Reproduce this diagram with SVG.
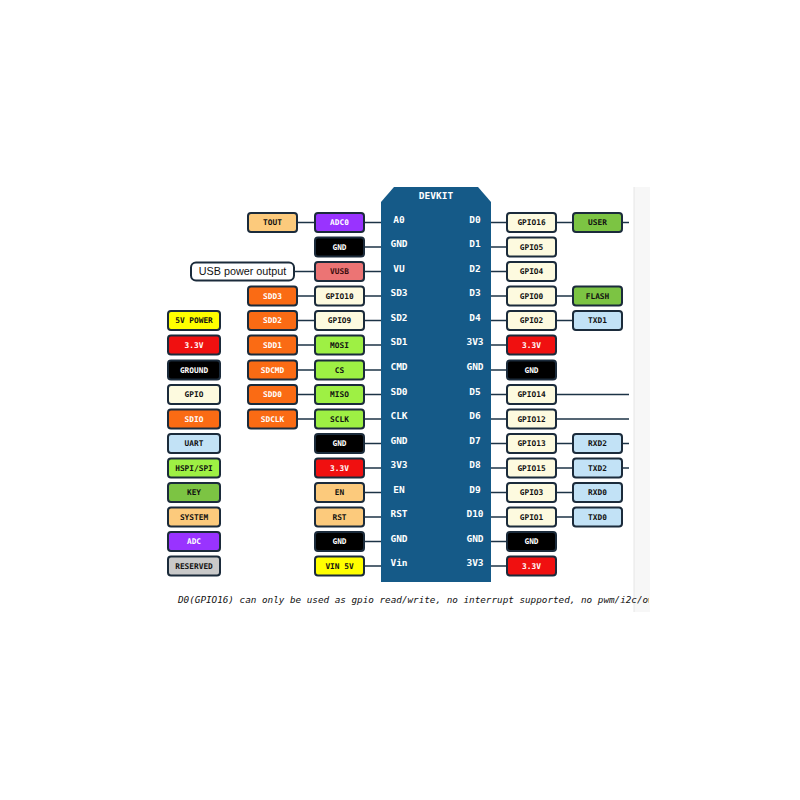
<svg xmlns="http://www.w3.org/2000/svg" width="800" height="800" viewBox="0 0 800 800">
<defs>
<style>
.b{stroke:#1b2b3b;stroke-width:2}
.t{font-family:"DejaVu Sans Mono","Liberation Mono",monospace;font-weight:bold;font-size:7.8px;text-anchor:middle;fill:#111}
.w{fill:#fff}
.pl{font-family:"DejaVu Sans Mono","Liberation Mono",monospace;font-weight:bold;font-size:9.5px;fill:#fff}
.cream{fill:#fdfadf}.gnd{fill:#000}.red{fill:#f01010}.orange{fill:#fa6b14}.lime{fill:#9ef044}
.green{fill:#7cc443}.blue{fill:#c2e2f6}.sys{fill:#fcca7c}.purple{fill:#9933ff}.yellow{fill:#ffff00}
.gray{fill:#c9c9c9}.vusb{fill:#ec7474}
.c line{stroke:#1c3346;stroke-width:1.5}
</style>
<clipPath id="clipNote"><rect x="0" y="580" width="649" height="40"/></clipPath>
</defs>
<rect width="800" height="800" fill="#fff"/>
<rect x="634" y="187" width="16" height="425" fill="#f7f7f7"/>
<line x1="634" y1="187" x2="634" y2="612" stroke="#e6e6e6" stroke-width="1"/>

<g id="connectors" class="c">
<line x1="297" y1="222.5" x2="315" y2="222.5"/>
<line x1="294" y1="271.5" x2="315" y2="271.5"/>
<line x1="297" y1="296" x2="315" y2="296"/>
<line x1="297" y1="320.5" x2="315" y2="320.5"/>
<line x1="297" y1="345" x2="315" y2="345"/>
<line x1="297" y1="370" x2="315" y2="370"/>
<line x1="297" y1="394.5" x2="315" y2="394.5"/>
<line x1="297" y1="419" x2="315" y2="419"/>
<line x1="364" y1="222.5" x2="381" y2="222.5"/>
<line x1="364" y1="247" x2="381" y2="247"/>
<line x1="364" y1="271.5" x2="381" y2="271.5"/>
<line x1="364" y1="296" x2="381" y2="296"/>
<line x1="364" y1="320.5" x2="381" y2="320.5"/>
<line x1="364" y1="345" x2="381" y2="345"/>
<line x1="364" y1="370" x2="381" y2="370"/>
<line x1="364" y1="394.5" x2="381" y2="394.5"/>
<line x1="364" y1="419" x2="381" y2="419"/>
<line x1="364" y1="443.5" x2="381" y2="443.5"/>
<line x1="364" y1="468" x2="381" y2="468"/>
<line x1="364" y1="492.5" x2="381" y2="492.5"/>
<line x1="364" y1="517" x2="381" y2="517"/>
<line x1="364" y1="541.5" x2="381" y2="541.5"/>
<line x1="364" y1="566" x2="381" y2="566"/>
<line x1="491" y1="222.5" x2="507" y2="222.5"/>
<line x1="491" y1="247" x2="507" y2="247"/>
<line x1="491" y1="271.5" x2="507" y2="271.5"/>
<line x1="491" y1="296" x2="507" y2="296"/>
<line x1="491" y1="320.5" x2="507" y2="320.5"/>
<line x1="491" y1="345" x2="507" y2="345"/>
<line x1="491" y1="370" x2="507" y2="370"/>
<line x1="491" y1="394.5" x2="507" y2="394.5"/>
<line x1="491" y1="419" x2="507" y2="419"/>
<line x1="491" y1="443.5" x2="507" y2="443.5"/>
<line x1="491" y1="468" x2="507" y2="468"/>
<line x1="491" y1="492.5" x2="507" y2="492.5"/>
<line x1="491" y1="517" x2="507" y2="517"/>
<line x1="491" y1="541.5" x2="507" y2="541.5"/>
<line x1="491" y1="566" x2="507" y2="566"/>
<line x1="556" y1="222.5" x2="573" y2="222.5"/>
<line x1="556" y1="296" x2="573" y2="296"/>
<line x1="556" y1="320.5" x2="573" y2="320.5"/>
<line x1="556" y1="443.5" x2="573" y2="443.5"/>
<line x1="556" y1="468" x2="573" y2="468"/>
<line x1="556" y1="492.5" x2="573" y2="492.5"/>
<line x1="556" y1="517" x2="573" y2="517"/>
<line x1="622" y1="222.5" x2="629" y2="222.5"/>
<line x1="556" y1="394.5" x2="629" y2="394.5"/>
<line x1="556" y1="419" x2="629" y2="419"/>
<line x1="622" y1="443.5" x2="629" y2="443.5"/>
<line x1="622" y1="468" x2="629" y2="468"/>
</g>

<g id="board">
<path d="M381,202 L394,187 L478,187 L491,202 L491,582 L381,582 Z" fill="#155a88"/>
<text x="436" y="199" class="pl" text-anchor="middle">DEVKIT</text>
<g text-anchor="middle">
<text x="399" y="222.5" class="pl">A0</text>
<text x="399" y="247" class="pl">GND</text>
<text x="399" y="271.5" class="pl">VU</text>
<text x="399" y="296" class="pl">SD3</text>
<text x="399" y="320.5" class="pl">SD2</text>
<text x="399" y="345" class="pl">SD1</text>
<text x="399" y="370" class="pl">CMD</text>
<text x="399" y="394.5" class="pl">SD0</text>
<text x="399" y="419" class="pl">CLK</text>
<text x="399" y="443.5" class="pl">GND</text>
<text x="399" y="468" class="pl">3V3</text>
<text x="399" y="492.5" class="pl">EN</text>
<text x="399" y="517" class="pl">RST</text>
<text x="399" y="541.5" class="pl">GND</text>
<text x="399" y="566" class="pl">Vin</text>
</g>
<g text-anchor="middle">
<text x="475" y="222.5" class="pl">D0</text>
<text x="475" y="247" class="pl">D1</text>
<text x="475" y="271.5" class="pl">D2</text>
<text x="475" y="296" class="pl">D3</text>
<text x="475" y="320.5" class="pl">D4</text>
<text x="475" y="345" class="pl">3V3</text>
<text x="475" y="370" class="pl">GND</text>
<text x="475" y="394.5" class="pl">D5</text>
<text x="475" y="419" class="pl">D6</text>
<text x="475" y="443.5" class="pl">D7</text>
<text x="475" y="468" class="pl">D8</text>
<text x="475" y="492.5" class="pl">D9</text>
<text x="475" y="517" class="pl">D10</text>
<text x="475" y="541.5" class="pl">GND</text>
<text x="475" y="566" class="pl">3V3</text>
</g>
</g>

<!-- Legend column -->
<g id="leg-5v" transform="translate(168,320.5)"><rect class="b yellow" x="0" y="-9.5" width="52" height="19" rx="3"/><text class="t" x="26" y="2.8">5V POWER</text></g>
<g id="leg-33" transform="translate(168,345)"><rect class="b red" x="0" y="-9.5" width="52" height="19" rx="3"/><text class="t w" x="26" y="2.8">3.3V</text></g>
<g id="leg-gnd" transform="translate(168,370)"><rect class="b gnd" x="0" y="-9.5" width="52" height="19" rx="3"/><text class="t w" x="26" y="2.8">GROUND</text></g>
<g id="leg-gpio" transform="translate(168,394.5)"><rect class="b cream" x="0" y="-9.5" width="52" height="19" rx="3"/><text class="t" x="26" y="2.8">GPIO</text></g>
<g id="leg-sdio" transform="translate(168,419)"><rect class="b orange" x="0" y="-9.5" width="52" height="19" rx="3"/><text class="t w" x="26" y="2.8">SDIO</text></g>
<g id="leg-uart" transform="translate(168,443.5)"><rect class="b blue" x="0" y="-9.5" width="52" height="19" rx="3"/><text class="t" x="26" y="2.8">UART</text></g>
<g id="leg-spi" transform="translate(168,468)"><rect class="b lime" x="0" y="-9.5" width="52" height="19" rx="3"/><text class="t" x="26" y="2.8">HSPI/SPI</text></g>
<g id="leg-key" transform="translate(168,492.5)"><rect class="b green" x="0" y="-9.5" width="52" height="19" rx="3"/><text class="t" x="26" y="2.8">KEY</text></g>
<g id="leg-sys" transform="translate(168,517)"><rect class="b sys" x="0" y="-9.5" width="52" height="19" rx="3"/><text class="t" x="26" y="2.8">SYSTEM</text></g>
<g id="leg-adc" transform="translate(168,541.5)"><rect class="b purple" x="0" y="-9.5" width="52" height="19" rx="3"/><text class="t w" x="26" y="2.8">ADC</text></g>
<g id="leg-res" transform="translate(168,566)"><rect class="b gray" x="0" y="-9.5" width="52" height="19" rx="3"/><text class="t" x="26" y="2.8">RESERVED</text></g>

<!-- Column B -->
<g id="tout" transform="translate(248,222.5)"><rect class="b sys" x="0" y="-9.5" width="49" height="19" rx="3"/><text class="t" x="24.5" y="2.8">TOUT</text></g>
<g id="sdd3" transform="translate(248,296)"><rect class="b orange" x="0" y="-9.5" width="49" height="19" rx="3"/><text class="t w" x="24.5" y="2.8">SDD3</text></g>
<g id="sdd2" transform="translate(248,320.5)"><rect class="b orange" x="0" y="-9.5" width="49" height="19" rx="3"/><text class="t w" x="24.5" y="2.8">SDD2</text></g>
<g id="sdd1" transform="translate(248,345)"><rect class="b orange" x="0" y="-9.5" width="49" height="19" rx="3"/><text class="t w" x="24.5" y="2.8">SDD1</text></g>
<g id="sdcmd" transform="translate(248,370)"><rect class="b orange" x="0" y="-9.5" width="49" height="19" rx="3"/><text class="t w" x="24.5" y="2.8">SDCMD</text></g>
<g id="sdd0" transform="translate(248,394.5)"><rect class="b orange" x="0" y="-9.5" width="49" height="19" rx="3"/><text class="t w" x="24.5" y="2.8">SDD0</text></g>
<g id="sdclk" transform="translate(248,419)"><rect class="b orange" x="0" y="-9.5" width="49" height="19" rx="3"/><text class="t w" x="24.5" y="2.8">SDCLK</text></g>
<g id="usb-out" transform="translate(191,271.5)"><rect x="0" y="-9" width="103" height="18" rx="5" fill="#fff" stroke="#1b2b3b" stroke-width="2"/><text x="51.5" y="3.8" font-family="Liberation Sans, Arial, sans-serif" font-size="10.8" text-anchor="middle" fill="#111">USB power output</text></g>

<!-- Column C -->
<g id="adc0" transform="translate(315,222.5)"><rect class="b purple" x="0" y="-9.5" width="49" height="19" rx="3"/><text class="t w" x="24.5" y="2.8">ADC0</text></g>
<g id="l-gnd1" transform="translate(315,247)"><rect class="b gnd" x="0" y="-9.5" width="49" height="19" rx="3"/><text class="t w" x="24.5" y="2.8">GND</text></g>
<g id="vusb" transform="translate(315,271.5)"><rect class="b vusb" x="0" y="-9.5" width="49" height="19" rx="3"/><text class="t" x="24.5" y="2.8" fill="#3b0d0d" style="fill:#3b0d0d">VUSB</text></g>
<g id="gpio10" transform="translate(315,296)"><rect class="b cream" x="0" y="-9.5" width="49" height="19" rx="3"/><text class="t" x="24.5" y="2.8">GPIO10</text></g>
<g id="gpio9" transform="translate(315,320.5)"><rect class="b cream" x="0" y="-9.5" width="49" height="19" rx="3"/><text class="t" x="24.5" y="2.8">GPIO9</text></g>
<g id="mosi" transform="translate(315,345)"><rect class="b lime" x="0" y="-9.5" width="49" height="19" rx="3"/><text class="t" x="24.5" y="2.8">MOSI</text></g>
<g id="cs" transform="translate(315,370)"><rect class="b lime" x="0" y="-9.5" width="49" height="19" rx="3"/><text class="t" x="24.5" y="2.8">CS</text></g>
<g id="miso" transform="translate(315,394.5)"><rect class="b lime" x="0" y="-9.5" width="49" height="19" rx="3"/><text class="t" x="24.5" y="2.8">MISO</text></g>
<g id="sclk" transform="translate(315,419)"><rect class="b lime" x="0" y="-9.5" width="49" height="19" rx="3"/><text class="t" x="24.5" y="2.8">SCLK</text></g>
<g id="l-gnd2" transform="translate(315,443.5)"><rect class="b gnd" x="0" y="-9.5" width="49" height="19" rx="3"/><text class="t w" x="24.5" y="2.8">GND</text></g>
<g id="l-33" transform="translate(315,468)"><rect class="b red" x="0" y="-9.5" width="49" height="19" rx="3"/><text class="t w" x="24.5" y="2.8">3.3V</text></g>
<g id="en" transform="translate(315,492.5)"><rect class="b sys" x="0" y="-9.5" width="49" height="19" rx="3"/><text class="t" x="24.5" y="2.8">EN</text></g>
<g id="rst" transform="translate(315,517)"><rect class="b sys" x="0" y="-9.5" width="49" height="19" rx="3"/><text class="t" x="24.5" y="2.8">RST</text></g>
<g id="l-gnd3" transform="translate(315,541.5)"><rect class="b gnd" x="0" y="-9.5" width="49" height="19" rx="3"/><text class="t w" x="24.5" y="2.8">GND</text></g>
<g id="vin5v" transform="translate(315,566)"><rect class="b yellow" x="0" y="-9.5" width="49" height="19" rx="3"/><text class="t" x="24.5" y="2.8">VIN 5V</text></g>

<!-- Column D -->
<g id="gpio16" transform="translate(507,222.5)"><rect class="b cream" x="0" y="-9.5" width="49" height="19" rx="3"/><text class="t" x="24.5" y="2.8">GPIO16</text></g>
<g id="gpio5" transform="translate(507,247)"><rect class="b cream" x="0" y="-9.5" width="49" height="19" rx="3"/><text class="t" x="24.5" y="2.8">GPIO5</text></g>
<g id="gpio4" transform="translate(507,271.5)"><rect class="b cream" x="0" y="-9.5" width="49" height="19" rx="3"/><text class="t" x="24.5" y="2.8">GPIO4</text></g>
<g id="gpio0" transform="translate(507,296)"><rect class="b cream" x="0" y="-9.5" width="49" height="19" rx="3"/><text class="t" x="24.5" y="2.8">GPIO0</text></g>
<g id="gpio2" transform="translate(507,320.5)"><rect class="b cream" x="0" y="-9.5" width="49" height="19" rx="3"/><text class="t" x="24.5" y="2.8">GPIO2</text></g>
<g id="r-33a" transform="translate(507,345)"><rect class="b red" x="0" y="-9.5" width="49" height="19" rx="3"/><text class="t w" x="24.5" y="2.8">3.3V</text></g>
<g id="r-gnd1" transform="translate(507,370)"><rect class="b gnd" x="0" y="-9.5" width="49" height="19" rx="3"/><text class="t w" x="24.5" y="2.8">GND</text></g>
<g id="gpio14" transform="translate(507,394.5)"><rect class="b cream" x="0" y="-9.5" width="49" height="19" rx="3"/><text class="t" x="24.5" y="2.8">GPIO14</text></g>
<g id="gpio12" transform="translate(507,419)"><rect class="b cream" x="0" y="-9.5" width="49" height="19" rx="3"/><text class="t" x="24.5" y="2.8">GPIO12</text></g>
<g id="gpio13" transform="translate(507,443.5)"><rect class="b cream" x="0" y="-9.5" width="49" height="19" rx="3"/><text class="t" x="24.5" y="2.8">GPIO13</text></g>
<g id="gpio15" transform="translate(507,468)"><rect class="b cream" x="0" y="-9.5" width="49" height="19" rx="3"/><text class="t" x="24.5" y="2.8">GPIO15</text></g>
<g id="gpio3" transform="translate(507,492.5)"><rect class="b cream" x="0" y="-9.5" width="49" height="19" rx="3"/><text class="t" x="24.5" y="2.8">GPIO3</text></g>
<g id="gpio1" transform="translate(507,517)"><rect class="b cream" x="0" y="-9.5" width="49" height="19" rx="3"/><text class="t" x="24.5" y="2.8">GPIO1</text></g>
<g id="r-gnd2" transform="translate(507,541.5)"><rect class="b gnd" x="0" y="-9.5" width="49" height="19" rx="3"/><text class="t w" x="24.5" y="2.8">GND</text></g>
<g id="r-33b" transform="translate(507,566)"><rect class="b red" x="0" y="-9.5" width="49" height="19" rx="3"/><text class="t w" x="24.5" y="2.8">3.3V</text></g>

<!-- Column E -->
<g id="user" transform="translate(573,222.5)"><rect class="b green" x="0" y="-9.5" width="49" height="19" rx="3"/><text class="t" x="24.5" y="2.8">USER</text></g>
<g id="flash" transform="translate(573,296)"><rect class="b green" x="0" y="-9.5" width="49" height="19" rx="3"/><text class="t" x="24.5" y="2.8">FLASH</text></g>
<g id="txd1" transform="translate(573,320.5)"><rect class="b blue" x="0" y="-9.5" width="49" height="19" rx="3"/><text class="t" x="24.5" y="2.8">TXD1</text></g>
<g id="rxd2" transform="translate(573,443.5)"><rect class="b blue" x="0" y="-9.5" width="49" height="19" rx="3"/><text class="t" x="24.5" y="2.8">RXD2</text></g>
<g id="txd2" transform="translate(573,468)"><rect class="b blue" x="0" y="-9.5" width="49" height="19" rx="3"/><text class="t" x="24.5" y="2.8">TXD2</text></g>
<g id="rxd0" transform="translate(573,492.5)"><rect class="b blue" x="0" y="-9.5" width="49" height="19" rx="3"/><text class="t" x="24.5" y="2.8">RXD0</text></g>
<g id="txd0" transform="translate(573,517)"><rect class="b blue" x="0" y="-9.5" width="49" height="19" rx="3"/><text class="t" x="24.5" y="2.8">TXD0</text></g>

<g id="note" clip-path="url(#clipNote)">
<text x="178" y="603" font-family="DejaVu Sans Mono, Liberation Mono, monospace" font-style="italic" font-size="9.3" fill="#111">D0(GPIO16) can only be used as gpio read/write, no interrupt supported, no pwm/i2c/ow</text>
</g>
</svg>
